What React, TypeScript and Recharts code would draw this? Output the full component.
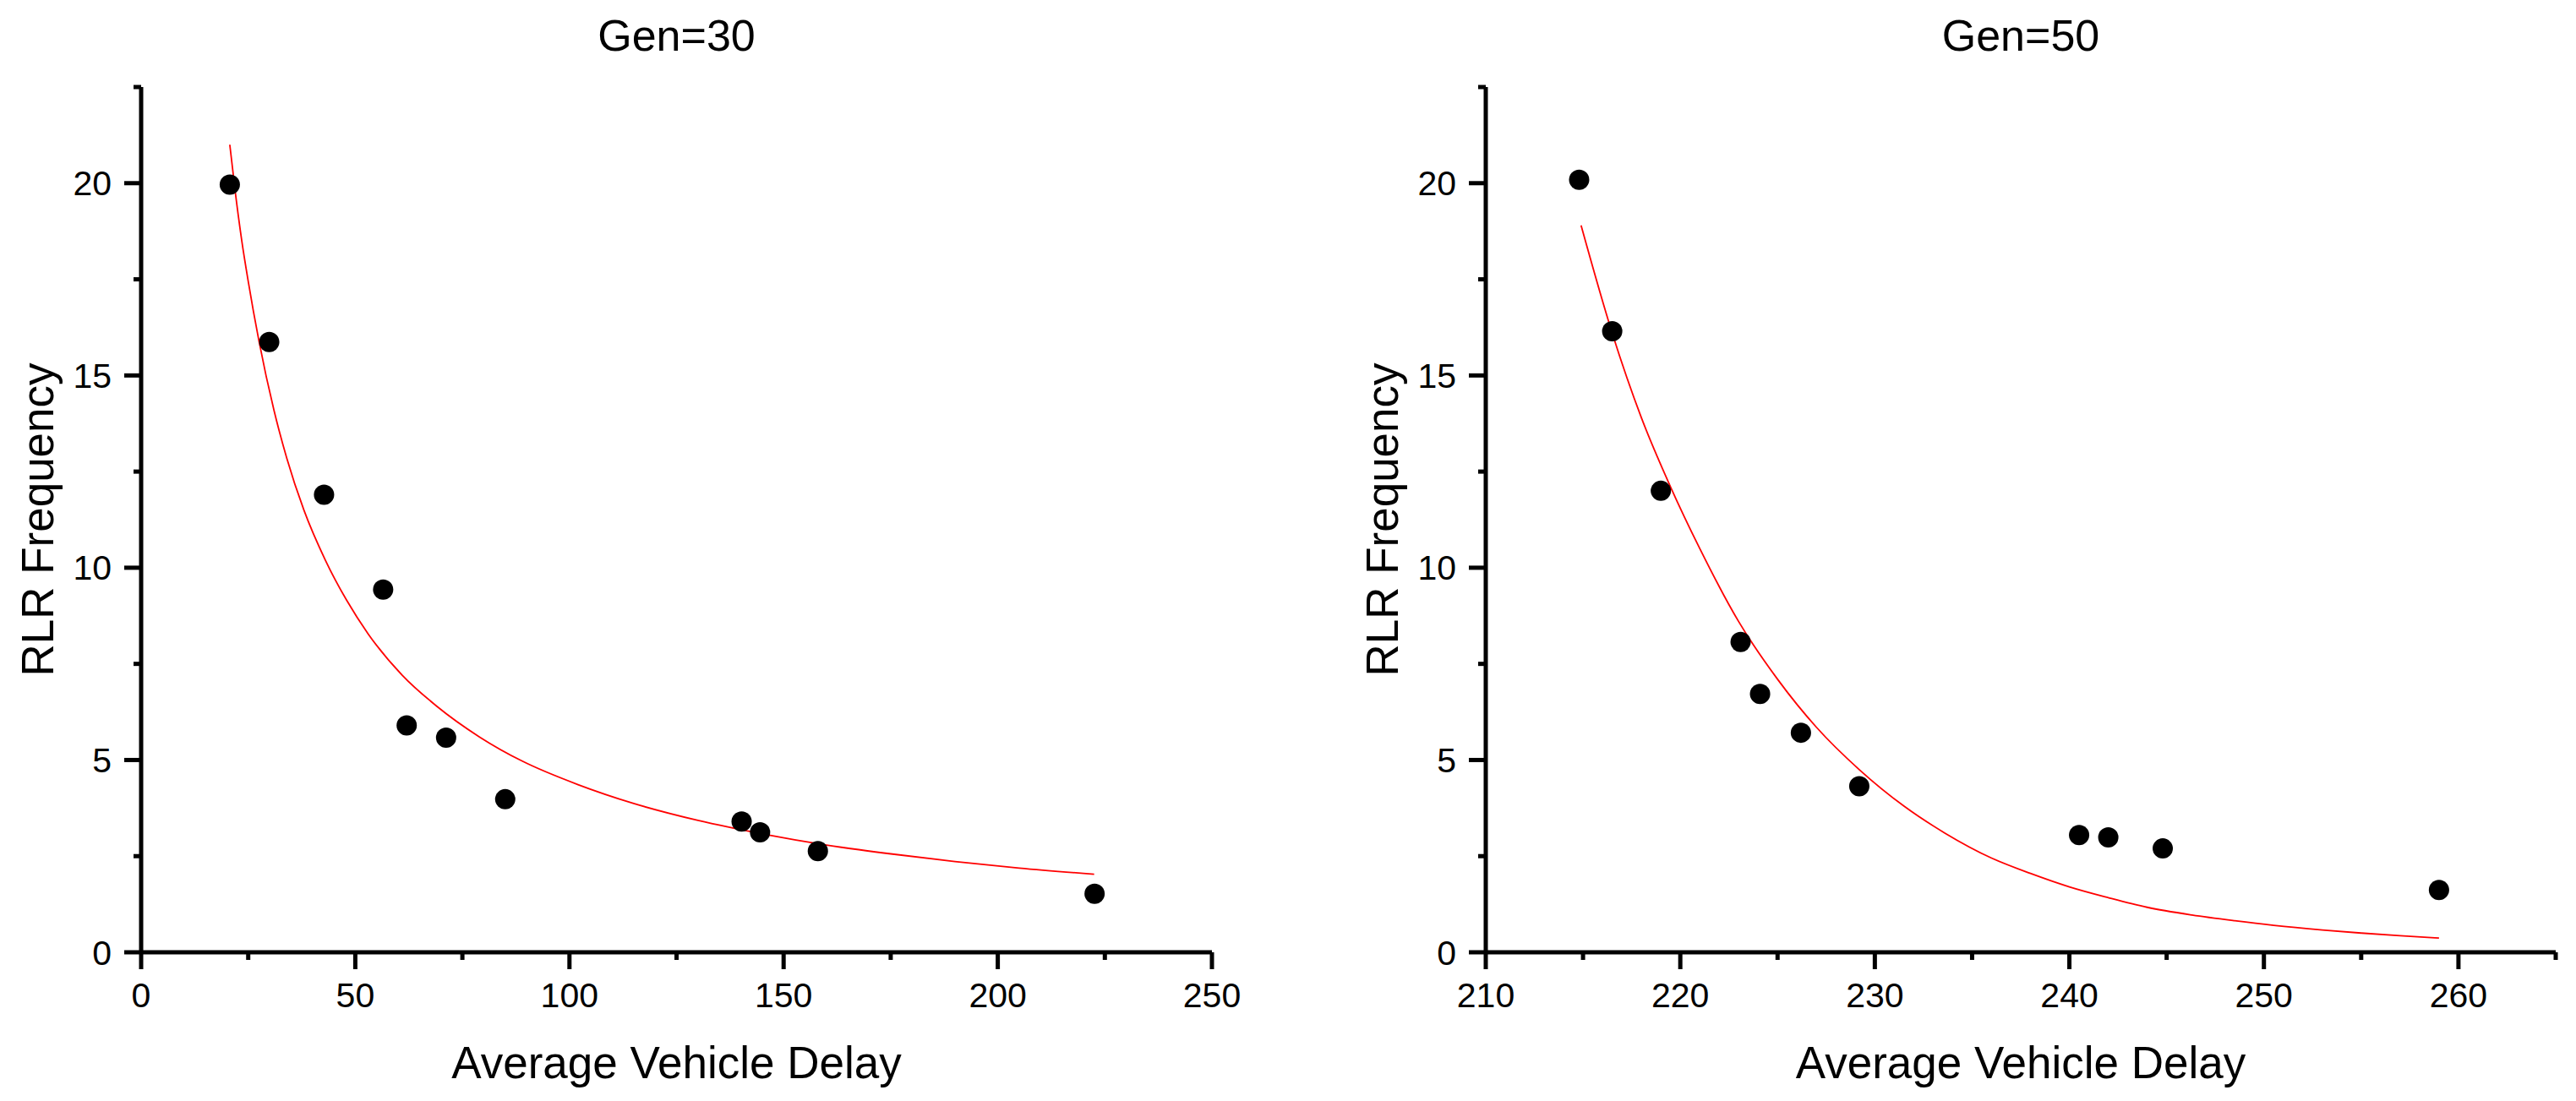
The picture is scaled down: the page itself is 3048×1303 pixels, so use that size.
import React from "react";
import { ComposedChart, Scatter, Line, XAxis, YAxis } from "recharts";

// Gen=30 panel
const gen30X = [20.7, 29.9, 42.7, 56.5, 62.0, 71.2, 85.0, 140.2, 144.5, 158.0, 222.6];
const gen30Y = [19.96, 15.87, 11.9, 9.43, 5.9, 5.58, 3.98, 3.4, 3.12, 2.63, 1.52];
const gen30FitX = [20.7, 22, 23.5, 25, 27.5, 31, 34, 38, 43, 48, 53, 61, 69, 79, 89, 102, 115, 130, 145, 160, 175, 190, 205, 222.5];
const gen30FitY = [21.0, 19.75, 18.5, 17.45, 15.9, 14.1, 12.85, 11.5, 10.2, 9.15, 8.28, 7.2, 6.4, 5.6, 4.97, 4.36, 3.87, 3.43, 3.08, 2.79, 2.56, 2.36, 2.19, 2.03];

// Gen=50 panel
const gen50X = [214.8, 216.5, 219.0, 223.1, 224.1, 226.2, 229.2, 240.5, 242.0, 244.8, 259.0];
const gen50Y = [20.09, 16.15, 12.0, 8.07, 6.72, 5.71, 4.32, 3.05, 2.99, 2.7, 1.62];
const gen50FitX = [214.9, 216.5, 218, 219.5, 221, 223, 225, 227, 229.2, 231.5, 233.6, 236, 238, 240, 242, 244, 246.3, 248.5, 250.5, 253, 255, 257, 259];
const gen50FitY = [18.9, 16.1, 13.9, 12.1, 10.5, 8.6, 7.1, 5.85, 4.75, 3.8, 3.1, 2.45, 2.05, 1.7, 1.42, 1.17, 0.97, 0.82, 0.7, 0.58, 0.5, 0.43, 0.37];

const gen30XTicks = [0, 25, 50, 75, 100, 125, 150, 175, 200, 225, 250];
const gen50XTicks = [210, 215, 220, 225, 230, 235, 240, 245, 250, 255, 260, 265];
const yTicks = [0, 2.5, 5, 7.5, 10, 12.5, 15, 17.5, 20, 22.5];

const FONT = "'Liberation Sans', Arial, sans-serif";
const TICK = 20;
const MINOR = 9;
const MX = 16;
const MY = 15;
const AXIS_W = 5;

const zip = (xs: number[], ys: number[]) => xs.map((x, i) => ({ x, y: ys[i] }));

const isMajor = (v: number, step: number) => Math.abs(v / step - Math.round(v / step)) < 1e-6;

const XTick = (props: any) => {
  const { x, y, payload, step } = props;
  const v = payload.value;
  const axisY = y - TICK - MX;
  const major = isMajor(v, step);
  return (
    <g>
      <line x1={x} x2={x} y1={axisY} y2={axisY + (major ? TICK : MINOR)} stroke="#000" strokeWidth={AXIS_W} />
      {major && (
        <text x={x} y={y} dy="0.71em" textAnchor="middle" fontSize={41} fontFamily={FONT} fill="#000">
          {v}
        </text>
      )}
    </g>
  );
};

const YTick = (props: any) => {
  const { x, y, payload } = props;
  const v = payload.value;
  const axisX = x + TICK + MY;
  const major = isMajor(v, 5);
  return (
    <g>
      <line x1={axisX} x2={axisX - (major ? TICK : MINOR)} y1={y} y2={y} stroke="#000" strokeWidth={AXIS_W} />
      {major && (
        <text x={x} y={y} dy="0.355em" textAnchor="end" fontSize={41} fontFamily={FONT} fill="#000">
          {v}
        </text>
      )}
    </g>
  );
};

const Dot = (props: any) => <circle cx={props.cx} cy={props.cy} r={12} fill="#000" />;

type PanelProps = {
  left: number;
  title: string;
  points: { x: number; y: number }[];
  fit: { x: number; y: number }[];
  domain: [number, number];
  xTicks: number[];
  step: number;
  yAxisWidth: number;
  rightMargin: number;
  labelX: number;
};

const Panel = ({ left, title, points, fit, domain, xTicks, step, yAxisWidth, rightMargin, labelX }: PanelProps) => {
  const plotW = 1524 - yAxisWidth - rightMargin;
  return (
    <div style={{ position: "absolute", left, top: 0, width: 1524, height: 1303 }}>
      <div
        style={{
          position: "absolute",
          left: yAxisWidth,
          top: 16,
          width: plotW,
          textAlign: "center",
          fontFamily: FONT,
          fontSize: 52,
          lineHeight: "52px",
          color: "#000",
        }}
      >
        {title}
      </div>
      <ComposedChart width={1524} height={1303} margin={{ top: 103, right: rightMargin, bottom: 0, left: 0 }}>
        <XAxis
          dataKey="x"
          type="number"
          domain={domain}
          ticks={xTicks}
          interval={0}
          height={176}
          tickSize={TICK}
          tickMargin={MX}
          tickLine={false}
          axisLine={{ stroke: "#000", strokeWidth: AXIS_W }}
          tick={(p: any) => <XTick {...p} step={step} />}
          label={{
            value: "Average Vehicle Delay",
            position: "insideBottom",
            offset: 27,
            fontSize: 53,
            fontFamily: FONT,
            fill: "#000",
          }}
        />
        <YAxis
          type="number"
          domain={[0, 22.5]}
          ticks={yTicks}
          interval={0}
          width={yAxisWidth}
          tickSize={TICK}
          tickMargin={MY}
          tickLine={false}
          axisLine={{ stroke: "#000", strokeWidth: AXIS_W }}
          tick={(p: any) => <YTick {...p} />}
          label={{
            value: "RLR Frequency",
            angle: -90,
            position: "insideLeft",
            offset: labelX,
            fontSize: 53,
            fontFamily: FONT,
            fill: "#000",
            style: { textAnchor: "middle" },
          }}
        />
        <Line
          data={fit}
          dataKey="y"
          type="monotone"
          stroke="#ff0000"
          strokeWidth={1.8}
          dot={false}
          activeDot={false}
          isAnimationActive={false}
        />
        <Scatter data={points} dataKey="y" fill="#000" shape={<Dot />} isAnimationActive={false} />
      </ComposedChart>
    </div>
  );
};

export default function App() {
  return (
    <div style={{ position: "absolute", left: 0, top: 0, width: 3048, height: 1303, background: "#fff" }}>
      <Panel
        left={0}
        title="Gen=30"
        points={zip(gen30X, gen30Y)}
        fit={zip(gen30FitX, gen30FitY)}
        domain={[0, 250]}
        xTicks={gen30XTicks}
        step={50}
        yAxisWidth={167}
        rightMargin={90}
        labelX={44}
      />
      <Panel
        left={1524}
        title="Gen=50"
        points={zip(gen50X, gen50Y)}
        fit={zip(gen50FitX, gen50FitY)}
        domain={[210, 265]}
        xTicks={gen50XTicks}
        step={10}
        yAxisWidth={234}
        rightMargin={24}
        labelX={111}
      />
    </div>
  );
}
